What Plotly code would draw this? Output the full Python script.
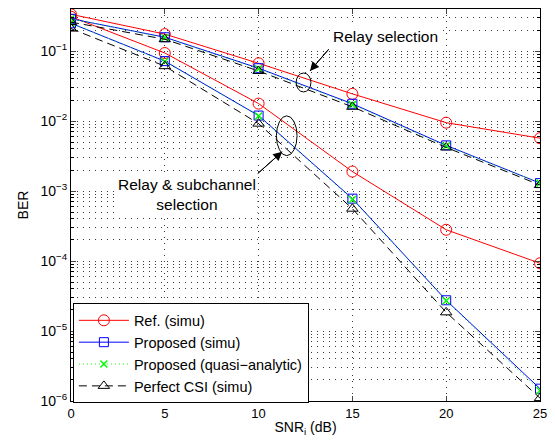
import plotly.graph_objects as go

# ---------------- data ----------------
snr = [0, 5, 10, 15, 20, 25]

# Relay selection (upper group)
ref_rs = [0.336, 0.175, 0.067, 0.0245, 0.0095, 0.0057]
prop_rs = [0.29, 0.158, 0.057, 0.0177, 0.0045, 0.0013]
quasi_rs = [0.29, 0.155, 0.056, 0.0172, 0.0044, 0.0013]
csi_rs = [0.26, 0.148, 0.052, 0.016, 0.0042, 0.00122]

# Relay & subchannel selection (lower group)
ref_rss = [0.31, 0.094, 0.0178, 0.0019, 0.00028, 0.000093]
prop_rss = [0.25, 0.072, 0.012, 0.00078, 0.0000275, 0.0000015]
quasi_rss = [0.25, 0.071, 0.0118, 0.00076, 0.0000270, 0.0000014]
csi_rss = [0.21, 0.061, 0.0092, 0.00056, 0.0000185, 0.0000011]

x_ticks = [0, 5, 10, 15, 20, 25]
y_ticks = [1e-6, 1e-5, 1e-4, 1e-3, 1e-2, 1e-1]
y_ticklabels = ["10<sup>−6</sup>", "10<sup>−5</sup>", "10<sup>−4</sup>",
                "10<sup>−3</sup>", "10<sup>−2</sup>", "10<sup>−1</sup>"]

series_names = ["Ref. (simu)", "Proposed (simu)",
                "Proposed (quasi−analytic)", "Perfect CSI (simu)"]

FONT = "Liberation Sans, Arial, Helvetica, sans-serif"


def joined(a, b):
    return a + [None] + b


xs = joined(snr, snr)

fig = go.Figure()

fig.add_trace(go.Scatter(
    x=xs, y=joined(ref_rs, ref_rss), name=series_names[0], mode="lines+markers",
    line=dict(color="#ff0000", width=1),
    marker=dict(symbol="circle-open", size=11, color="#ff0000", line=dict(width=1)),
))
fig.add_trace(go.Scatter(
    x=xs, y=joined(prop_rs, prop_rss), name=series_names[1], mode="lines+markers",
    line=dict(color="#0000ff", width=1),
    marker=dict(symbol="square-open", size=9, color="#0000ff", line=dict(width=1)),
))
fig.add_trace(go.Scatter(
    x=xs, y=joined(quasi_rs, quasi_rss), name=series_names[2], mode="lines+markers",
    line=dict(color="#00ff00", width=1, dash="1px,3px"),
    marker=dict(symbol="x-thin-open", size=7, color="#00ff00", line=dict(width=1.5, color="#00ff00")),
))
fig.add_trace(go.Scatter(
    x=xs, y=joined(csi_rs, csi_rss), name=series_names[3], mode="lines+markers",
    line=dict(color="#000000", width=1, dash="8px,5px"),
    marker=dict(symbol="triangle-up-open", size=10, color="#000000", line=dict(width=1)),
))

# minor log ticks (2..9 per decade)
minor_vals = [m * 10.0 ** e for e in range(-6, 0) for m in range(2, 10)]

grid_col = "#3a3a3a"

fig.update_xaxes(
    range=[0, 25], tickvals=x_ticks, ticks="inside", ticklen=5,
    showline=True, linecolor="black", linewidth=1, mirror="ticks",
    showgrid=True, gridcolor=grid_col, griddash="1px,5px", gridwidth=1,
    zeroline=False,
    tickfont=dict(family=FONT, size=13, color="black"),
    title=dict(text="SNR<sub>i</sub> (dB)", font=dict(family=FONT, size=14, color="black"), standoff=2),
)
fig.update_yaxes(
    type="log", range=[-6, -0.398],
    tickvals=y_ticks, ticktext=y_ticklabels, ticks="inside", ticklen=5,
    showline=True, linecolor="black", linewidth=1, mirror="ticks",
    showgrid=True, gridcolor=grid_col, griddash="1px,5px", gridwidth=1,
    minor=dict(tickvals=minor_vals, ticks="inside", ticklen=3, tickcolor="black",
               showgrid=True, gridcolor=grid_col, griddash="1px,5px", gridwidth=1),
    tickfont=dict(family=FONT, size=14, color="black"),
    title=dict(text="BER", font=dict(family=FONT, size=14, color="black"), standoff=8),
)

# arrows: shaft as a line shape (data coords), head from an annotation
arrows = [  # (head_x, head_log10y, tail_x, tail_log10y)
    (12.74, -1.284, 13.74, -0.972),
    (11.26, -2.437, 9.95, -2.75),
]
for hx, hy, tx, ty in arrows:
    fig.add_shape(type="line", xref="x", yref="y", x0=tx, y0=10 ** ty, x1=hx, y1=10 ** hy,
                  line=dict(color="black", width=1))
    fig.add_annotation(x=hx, y=hy, ax=tx, ay=ty, xref="x", yref="y", axref="x", ayref="y",
                       text="", showarrow=True, arrowhead=2, arrowsize=1.8, arrowwidth=1,
                       arrowcolor="black", font=dict(size=1), borderpad=0, standoff=0)

fig.add_annotation(x=16.76, y=-0.787, xref="x", yref="y", text="Relay selection",
                   showarrow=False, font=dict(family=FONT, size=15.5, color="black"),
                   bgcolor="white")
fig.add_annotation(x=6.16, y=-3.05, xref="x", yref="y",
                   text="Relay &amp; subchannel<br>selection",
                   showarrow=False, align="center",
                   font=dict(family=FONT, size=15.5, color="black"), bgcolor="white")

# ellipses (shape coordinates on log axes are data values)
fig.add_shape(type="circle", xref="x", yref="y", x0=12.0, x1=12.79,
              y0=10 ** -1.583, y1=10 ** -1.313, line=dict(color="black", width=1))
fig.add_shape(type="circle", xref="x", yref="y", x0=10.95, x1=12.05,
              y0=10 ** -2.494, y1=10 ** -1.925, line=dict(color="black", width=1))

fig.update_layout(
    width=555, height=443,
    margin=dict(l=71, r=9, t=8, b=42),
    paper_bgcolor="white", plot_bgcolor="white",
    font=dict(family=FONT, size=13, color="black"),
    legend=dict(x=0.004, y=0.249, xanchor="left", yanchor="top",
                bgcolor="white", bordercolor="black", borderwidth=1,
                font=dict(family=FONT, size=14.5, color="black"),
                itemwidth=50, tracegroupgap=0),
    showlegend=True,
)

# remove the default page margin so the figure fills the window exactly
fig.write_html(
    "out.html",
    config={"displayModeBar": False},
    post_script="document.documentElement.style.margin='0';"
                "document.body.style.margin='0';"
                "document.body.style.overflow='hidden';",
)
